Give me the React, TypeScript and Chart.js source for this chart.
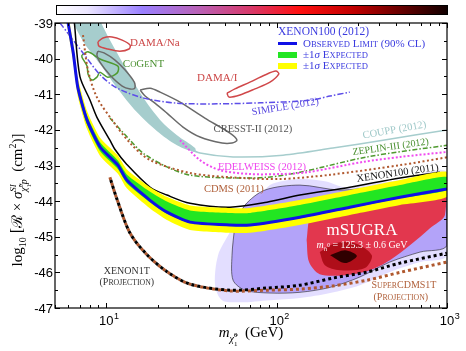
import React, { useEffect, useRef } from "react";
import { Chart, registerables } from "chart.js";
Chart.register(...registerables);

const SERIF = '"Liberation Serif", "DejaVu Serif", serif';
const SANS = '"Liberation Sans", Arial, sans-serif';

// ---- axes ----
const massMin = 5;
const massMax = 1000;
const sigmaMin = -47;
const sigmaMax = -39;
const yTickValues = [-39, -40, -41, -42, -43, -44, -45, -46, -47];
const yTickLabels = ["-39", "-40", "-41", "-42", "-43", "-44", "-45", "-46", "-47"];
const xTickValues = [10, 100, 1000];
const xTickExponents = ["1", "2", "3"];
const xMinorTicks = [5, 6, 7, 8, 9, 20, 30, 40, 50, 60, 70, 80, 90, 200, 300, 400, 500, 600, 700, 800, 900];

// ---- XENON100 (2012) observed limit and expected bands ----
const limitMass = [5.8, 6.0, 6.4, 6.8, 7.7, 9.2, 11.7, 13.2, 18, 22.7, 31, 53, 70, 137, 269, 530, 1000];
const observedLimit = [-38.6, -39.06, -39.84, -40.8, -41.72, -42.48, -42.99, -43.41, -43.97, -44.31, -44.59, -44.67, -44.67, -44.45, -44.17, -43.89, -43.66];
const expected2SigmaUpper = [-38.35, -38.8, -39.58, -40.54, -41.46, -42.22, -42.72, -43.11, -43.6, -43.88, -44.12, -44.19, -44.19, -43.97, -43.69, -43.41, -43.18];
const expected1SigmaUpper = [-38.47, -38.93, -39.71, -40.67, -41.59, -42.35, -42.86, -43.25, -43.73, -44.01, -44.26, -44.33, -44.33, -44.11, -43.83, -43.55, -43.32];
const expected1SigmaLower = [-38.72, -39.18, -39.96, -40.92, -41.84, -42.6, -43.1, -43.5, -44.03, -44.35, -44.62, -44.7, -44.7, -44.48, -44.2, -43.92, -43.69];
const expected2SigmaLower = [-38.85, -39.3, -40.09, -41.05, -41.97, -42.73, -43.23, -43.64, -44.2, -44.53, -44.81, -44.89, -44.89, -44.67, -44.39, -44.11, -43.88];

// ---- XENON100 (2011) ----
const xenon2011Mass = [6.5, 7.0, 8.02, 8.8, 10.5, 11.25, 13.2, 18.1, 22.7, 31, 53.2, 87.7, 137, 269, 530, 908];
const xenon2011Value = [-39.0, -40.5, -41.16, -41.64, -42.29, -42.55, -42.97, -43.61, -43.83, -44.06, -44.17, -44.03, -43.83, -43.61, -43.35, -43.19];

// ---- projections ----
const xenon1tMass = [10.5, 11.6, 13.8, 17.3, 22.7, 31, 53.2, 87.7, 137, 214, 339, 530, 1000];
const xenon1tValue = [-43.33, -43.97, -44.9, -45.5, -45.98, -46.33, -46.5, -46.44, -46.36, -46.16, -45.99, -45.74, -45.46];
const superCdmsMass = [10.5, 11.6, 13.8, 17.3, 22.7, 31, 53.2, 87.7, 137, 214, 339, 530, 1000];
const superCdmsValue = [-43.33, -43.97, -44.9, -45.5, -45.98, -46.33, -46.52, -46.5, -46.47, -46.38, -46.22, -46.0, -45.71];

// ---- other experiments ----
const cdmsMass = [7.3, 7.8, 8.8, 10.8, 13.8, 18.1, 31, 53.2, 104, 206, 530, 1000];
const cdmsValue = [-39.34, -40.32, -41.08, -41.72, -42.37, -42.85, -43.21, -43.33, -43.38, -43.26, -42.99, -42.77];
const edelweissMass = [27.1, 35.5, 46.5, 69.7, 104, 151, 321, 530, 1000];
const edelweissValue = [-42.29, -42.85, -43.13, -43.24, -43.24, -43.19, -42.9, -42.76, -42.62];
const zeplinMass = [10.5, 13.8, 16.4, 22.7, 31, 53.2, 87.7, 137, 339, 1000];
const zeplinValue = [-41.67, -42.29, -42.65, -43.04, -43.27, -43.35, -43.33, -43.19, -42.76, -42.43];
const simpleMass = [5.35, 7.3, 9.18, 11.5, 16.4, 26, 44.7, 79.8, 157, 206, 269];
const simpleValue = [-39.0, -39.84, -40.45, -40.82, -41.1, -41.25, -41.27, -41.24, -41.17, -41.05, -40.94];
const couppMass = [29, 35.5, 55.5, 109, 214, 421, 1000];
const couppValue = [-42.48, -42.65, -42.76, -42.71, -42.51, -42.29, -42.0];
const tealUpperMass = [8.9, 10.5, 13.2, 16.4, 20.7, 26.0, 33.2];
const tealUpperValue = [-38.8, -39.48, -40.32, -41.08, -41.72, -42.15, -42.51];
const tealLowerMass = [6.1, 7.3, 9.18, 11.6, 15.1, 19.8, 26.0, 33.2];
const tealLowerValue = [-38.8, -39.51, -40.15, -40.83, -41.5, -42.03, -42.43, -42.62];

// ---- closed regions ----
const damaNaMass = [8.93, 9.57, 10.8, 12.4, 13.8, 13.6, 12.0, 10.2, 9.06];
const damaNaValue = [-39.53, -39.42, -39.39, -39.48, -39.62, -39.73, -39.79, -39.73, -39.65];
const damaIMass = [51.1, 56.9, 69.7, 85.3, 99, 103, 91.4, 74.6, 60.9, 52.5];
const damaIValue = [-40.97, -40.85, -40.66, -40.46, -40.35, -40.43, -40.66, -40.85, -41.02, -41.08];
const cogentMass = [7.2, 7.81, 9.18, 11.7, 11.6, 10.2, 9.18, 8.81, 8.24, 7.81, 7.71, 7.2];
const cogentValue = [-39.9, -39.81, -40.01, -40.21, -40.4, -40.52, -40.38, -40.52, -40.6, -40.43, -40.21, -39.96];
const cresstAMass = [8.93, 9.7, 11.25, 12.9, 14.6, 14.7, 13.8, 12.4, 10.5, 9.18, 8.81];
const cresstAValue = [-39.79, -39.84, -40.04, -40.32, -40.66, -40.83, -40.85, -40.77, -40.46, -40.1, -39.9];
const cresstBMass = [15.8, 18.1, 20.7, 27.1, 37.9, 53.2, 58.5, 54.7, 47.8, 35.5, 28.2, 22.7, 19.3, 16.9];
const cresstBValue = [-40.88, -40.83, -40.94, -41.22, -41.67, -42.09, -42.29, -42.37, -42.37, -42.2, -41.92, -41.53, -41.25, -41.05];

// ---- mSUGRA posterior (density levels) ----
const msugraOuterMass = [53.2, 74.6, 91.4, 137, 192, 252, 353, 530, 1000, 1000, 694, 462, 308, 206, 137, 91.4, 60.9, 47.8, 43.5, 45.3];
const msugraOuterValue = [-44.87, -44.11, -43.55, -43.38, -43.44, -43.61, -43.52, -43.41, -43.19, -45.52, -45.71, -45.99, -46.36, -46.58, -46.72, -46.78, -46.84, -46.78, -46.36, -45.52];
const msugraMidMass = [56.9, 65.2, 85.3, 137, 235, 404, 694, 1000, 1000, 694, 462, 308, 206, 137, 91.4, 65.2, 55.5, 54.7];
const msugraMidValue = [-44.67, -44.11, -43.69, -43.55, -43.69, -43.58, -43.41, -43.3, -45.24, -45.43, -45.71, -46.13, -46.42, -46.56, -46.58, -46.5, -46.22, -45.52];
const msugraHighMass = [150, 157, 179, 252, 404, 694, 973, 973, 794, 606, 462, 353, 252, 179, 155];
const msugraHighValue = [-45.1, -44.39, -43.92, -43.75, -43.63, -43.47, -43.35, -44.39, -44.76, -45.24, -45.66, -45.94, -46.08, -46.05, -45.71];
const msugraPeakMass = [179, 220, 288, 362, 330, 235, 192];
const msugraPeakValue = [-45.43, -45.18, -45.18, -45.52, -45.88, -45.94, -45.8];
const msugraCoreMass = [206, 252, 296, 252];
const msugraCoreValue = [-45.52, -45.38, -45.54, -45.74];

// ---- text annotations (data coordinates) ----
const LABELS = [
  { text: "DAMA/Na", m: 13.8, v: -39.53, color: "#cc4646", size: 11, align: "left" },
  { text: "CoGeNT", m: 12.5, v: -40.12, color: "#4a9030", size: 11, align: "left", caps: true },
  { text: "DAMA/I", m: 34.1, v: -40.52, color: "#cc4646", size: 11, align: "left" },
  { text: "SIMPLE (2012)", m: 113, v: -41.33, color: "#5a4ae0", size: 10.5, rot: -9.5 },
  { text: "CRESST-II (2012)", m: 72.6, v: -41.95, color: "#555555", size: 10.5 },
  { text: "COUPP (2012)", m: 495, v: -41.98, color: "#9ec8c8", size: 10.5, rot: -10 },
  { text: "ZEPLIN-III (2012)", m: 469, v: -42.46, color: "#4a9030", size: 10, rot: -8 },
  { text: "EDELWEISS (2012)", m: 82, v: -43.02, color: "#ee44ee", size: 10.5 },
  { text: "CDMS (2011)", m: 56.1, v: -43.63, color: "#b0603a", size: 10.5 },
  { text: "XENON100 (2011)", m: 515, v: -43.19, color: "#111111", size: 10.5, rot: -8 },
  { text: "mSUGRA", m: 317, v: -44.79, color: "#ffffff", size: 17 },
  { text: "XENON1T", m: 13.2, v: -45.94, color: "#333333", size: 10 },
  { text: "(Projection)", m: 13.2, v: -46.25, color: "#333333", size: 10, caps: true },
  { text: "SuperCDMS1T", m: 559, v: -46.33, color: "#b0603a", size: 10, caps: true },
  { text: "(Projection)", m: 536, v: -46.67, color: "#b0603a", size: 10, caps: true },
];
const higgsLabelMass = 317;
const higgsLabelValue = -45.21;

// ---- helpers ----
type Run = { t?: string; s?: number; dy?: number; it?: boolean; g?: Run[]; st?: Run[] };

function pts(ms: number[], vs: number[]) {
  return ms.map((m, i) => ({ x: m, y: vs[i] }));
}
function closed(ms: number[], vs: number[]) {
  const p = pts(ms, vs);
  return [...p, p[0]];
}
function band(ms: number[], up: number[], lo: number[]) {
  return [...pts(ms, up), ...pts(ms, lo).reverse()];
}
function region(um: number[], uv: number[], lm: number[], lv: number[]) {
  return [...pts(um, uv), ...pts(lm, lv).reverse()];
}

function fontOf(r: Run) {
  return `${r.it ? "italic " : ""}${r.s || 12}px ${SERIF}`;
}
function measure(ctx: CanvasRenderingContext2D, r: Run): number {
  if (r.g) return r.g.reduce((a, x) => a + measure(ctx, x), 0);
  if (r.st) return Math.max(...r.st.map((x) => measure(ctx, x)));
  ctx.font = fontOf(r);
  return ctx.measureText(r.t || "").width;
}
function drawRun(ctx: CanvasRenderingContext2D, r: Run, x: number, y: number, dy0 = 0): number {
  const dy = dy0 + (r.dy || 0);
  if (r.g) {
    let cx = x;
    for (const c of r.g) cx += drawRun(ctx, c, cx, y, dy);
    return cx - x;
  }
  if (r.st) {
    let w = 0;
    for (const c of r.st) w = Math.max(w, drawRun(ctx, c, x, y, dy));
    return w;
  }
  ctx.font = fontOf(r);
  ctx.fillText(r.t || "", x, y + dy);
  return ctx.measureText(r.t || "").width;
}
function drawRuns(ctx: CanvasRenderingContext2D, runs: Run[], x: number, y: number, align: string, color: string, rot = 0) {
  const g = { g: runs };
  const w = measure(ctx, g);
  ctx.save();
  ctx.translate(x, y);
  ctx.rotate(rot);
  ctx.fillStyle = color;
  ctx.textBaseline = "alphabetic";
  ctx.textAlign = "left";
  const sx = align === "left" ? 0 : align === "right" ? -w : -w / 2;
  drawRun(ctx, g, sx, 0);
  ctx.restore();
}
function smallCaps(text: string, size: number): Run[] {
  const out: Run[] = [];
  for (const ch of text) {
    const lower = ch !== ch.toUpperCase();
    out.push({ t: lower ? ch.toUpperCase() : ch, s: lower ? size * 0.78 : size });
  }
  return out;
}

const decorPlugin = {
  id: "decor",
  afterDatasetsDraw(chart: any) {
    const ctx: CanvasRenderingContext2D = chart.ctx;
    const xs = chart.scales.x;
    const ys = chart.scales.y;
    const ca = chart.chartArea;

    ctx.save();
    ctx.beginPath();
    ctx.rect(ca.left, ca.top, ca.right - ca.left, ca.bottom - ca.top);
    ctx.clip();
    for (const l of LABELS as any[]) {
      const px = xs.getPixelForValue(l.m);
      const py = ys.getPixelForValue(l.v) + 0.35 * l.size;
      const runs: Run[] = l.caps ? smallCaps(l.text, l.size) : [{ t: l.text, s: l.size }];
      drawRuns(ctx, runs, px, py, l.align || "center", l.color, ((l.rot || 0) * Math.PI) / 180);
    }
    {
      const px = xs.getPixelForValue(higgsLabelMass);
      const py = ys.getPixelForValue(higgsLabelValue) + 3.5;
      drawRuns(
        ctx,
        [
          { t: "m", s: 10, it: true },
          { t: "h", s: 7, dy: 3, it: true },
          { t: "0", s: 5.5, dy: -1 },
          { t: " = 125.3 \u00b1 0.6 GeV", s: 10 },
        ],
        px,
        py,
        "center",
        "#ffffff"
      );
    }
    ctx.restore();

    ctx.save();
    ctx.strokeStyle = "#000";
    ctx.lineWidth = 1.2;
    ctx.strokeRect(ca.left, ca.top, ca.right - ca.left, ca.bottom - ca.top);
    ctx.lineWidth = 1;
    ctx.beginPath();
    for (let v = sigmaMax; v >= sigmaMin; v -= 0.5) {
      const py = Math.round(ys.getPixelForValue(v)) + 0.5;
      const len = Number.isInteger(v) ? 5 : 3;
      ctx.moveTo(ca.left, py);
      ctx.lineTo(ca.left + len, py);
      ctx.moveTo(ca.right, py);
      ctx.lineTo(ca.right - len, py);
    }
    const xt = [...xTickValues.map((v) => [v, 5]), ...xMinorTicks.map((v) => [v, 3])];
    for (const [v, len] of xt) {
      const px = Math.round(xs.getPixelForValue(v)) + 0.5;
      ctx.moveTo(px, ca.bottom);
      ctx.lineTo(px, ca.bottom - len);
      ctx.moveTo(px, ca.top);
      ctx.lineTo(px, ca.top + len);
    }
    ctx.stroke();

    ctx.fillStyle = "#000";
    ctx.font = `13px ${SANS}`;
    ctx.textAlign = "right";
    ctx.textBaseline = "middle";
    yTickValues.forEach((v, i) => {
      ctx.fillText(yTickLabels[i], ca.left - 2, ys.getPixelForValue(v) + 1);
    });
    ctx.textBaseline = "alphabetic";
    xTickValues.forEach((v, i) => {
      const px = xs.getPixelForValue(v);
      ctx.font = `13px ${SANS}`;
      ctx.textAlign = "center";
      ctx.fillText("10", px, ca.bottom + 17);
      const w = ctx.measureText("10").width;
      ctx.font = `9px ${SANS}`;
      ctx.textAlign = "left";
      ctx.fillText(xTickExponents[i], px + w / 2 + 0.5, ca.bottom + 11);
    });

    const xTitle: Run[] = [
      { t: "m", s: 15, it: true },
      {
        g: [
          { t: "\u03c7\u0303", s: 10, dy: 5, it: true },
          { st: [{ t: "0", s: 7, dy: 0 }, { t: "1", s: 7, dy: 9 }] },
        ],
      },
      { t: "  (GeV)", s: 15 },
    ];
    drawRuns(ctx, xTitle, (ca.left + ca.right) / 2, ca.bottom + 29, "center", "#000");

    const yTitle: Run[] = [
      { t: "log", s: 15 },
      { t: "10", s: 10, dy: 4 },
      { t: " [", s: 16 },
      { t: "\u211b", s: 15 },
      { t: " \u00d7 ", s: 15 },
      { t: "\u03c3", s: 15, it: true },
      {
        st: [
          { t: "SI", s: 9, dy: -6, it: true },
          {
            g: [
              { t: "\u03c7\u0303", s: 10, dy: 5, it: true },
              { st: [{ t: "0", s: 6, dy: 1 }, { t: "1", s: 6, dy: 9 }] },
              { t: "p", s: 10, dy: 5, it: true },
            ],
          },
        ],
      },
      { t: "  (cm", s: 15 },
      { t: "2", s: 10, dy: -6 },
      { t: ")]", s: 15 },
    ];
    drawRuns(ctx, yTitle, 22, 200, "center", "#000", -Math.PI / 2);

    const cbL = ca.left + 1;
    const cbR = ca.right + 1;
    const grad = ctx.createLinearGradient(cbL, 0, cbR, 0);
    grad.addColorStop(0, "#ffffff");
    grad.addColorStop(0.08, "#ece6ff");
    grad.addColorStop(0.22, "#9a80ff");
    grad.addColorStop(0.36, "#b862b8");
    grad.addColorStop(0.5, "#d83868");
    grad.addColorStop(0.62, "#ff1010");
    grad.addColorStop(0.76, "#c00000");
    grad.addColorStop(0.9, "#580000");
    grad.addColorStop(1, "#100000");
    ctx.fillStyle = grad;
    ctx.fillRect(cbL, 5, cbR - cbL, 9);
    ctx.strokeStyle = "#000";
    ctx.lineWidth = 1;
    ctx.strokeRect(cbL + 0.5, 5.5, cbR - cbL - 1, 9);

    const lx = ca.left + 223;
    const lc = "#3a3adf";
    drawRuns(ctx, [{ t: "XENON100 (2012)", s: 11.5 }], lx, 35, "left", lc);
    ctx.strokeStyle = "#1010e6";
    ctx.lineWidth = 3;
    ctx.beginPath();
    ctx.moveTo(lx, 43.5);
    ctx.lineTo(lx + 19, 43.5);
    ctx.stroke();
    drawRuns(ctx, smallCaps("Observed Limit (90% CL)", 11), lx + 25, 47, "left", lc);
    ctx.fillStyle = "#22e622";
    ctx.fillRect(lx, 52, 19, 6);
    drawRuns(ctx, [{ t: "\u00b11", s: 11 }, { t: "\u03c3", s: 11, it: true }, { t: " ", s: 11 }, ...smallCaps("Expected", 11)], lx + 25, 58, "left", lc);
    ctx.fillStyle = "#ffff00";
    ctx.fillRect(lx, 63, 19, 6);
    drawRuns(ctx, [{ t: "\u00b11", s: 11 }, { t: "\u03c3", s: 11, it: true }, { t: " ", s: 11 }, ...smallCaps("Expected", 11)], lx + 25, 69, "left", lc);
    ctx.restore();
  },
};

function line(data: any[], color: string, width: number, extra: any = {}) {
  return {
    data,
    borderColor: color,
    borderWidth: width,
    pointRadius: 0,
    fill: false,
    tension: 0.3,
    ...extra,
  };
}
function area(data: any[], color: string, extra: any = {}) {
  return {
    data,
    borderColor: color,
    backgroundColor: color,
    borderWidth: 0,
    pointRadius: 0,
    fill: "shape",
    tension: 0.3,
    ...extra,
  };
}

export default function App() {
  const ref = useRef<HTMLCanvasElement>(null);
  useEffect(() => {
    if (!ref.current) return;
    const layers = [
      area(closed(msugraOuterMass, msugraOuterValue), "rgba(208,200,255,0.6)"),
      area(closed(msugraMidMass, msugraMidValue), "rgba(170,150,248,0.82)", { borderWidth: 0.6, borderColor: "#222" }),
      area(closed(msugraHighMass, msugraHighValue), "rgba(232,40,55,0.88)"),
      area(closed(msugraPeakMass, msugraPeakValue), "rgba(170,10,20,0.9)"),
      area(closed(msugraCoreMass, msugraCoreValue), "#300000"),
      area(region(tealUpperMass, tealUpperValue, tealLowerMass, tealLowerValue), "#a6cdcd"),
      line(pts(couppMass, couppValue), "#a6cdcd", 1.5),
      line(closed(damaNaMass, damaNaValue), "#d0484a", 1.5),
      line(closed(damaIMass, damaIValue), "#d0484a", 1.5),
      line(closed(cogentMass, cogentValue), "#4f9a2f", 1.5),
      line(closed(cresstAMass, cresstAValue), "#6a6a6a", 1.5),
      line(closed(cresstBMass, cresstBValue), "#6a6a6a", 1.5),
      line(pts(simpleMass, simpleValue), "#5d4ee8", 1.5, { borderDash: [6, 2, 1.5, 2] }),
      line(pts(zeplinMass, zeplinValue), "#4f9a2f", 1.5, { borderDash: [5, 2, 1.5, 2] }),
      line(pts(cdmsMass, cdmsValue), "#b0582e", 2, { borderDash: [2, 2.5] }),
      line(pts(edelweissMass, edelweissValue), "#f04cf0", 2, { borderDash: [2, 2] }),
      line(pts(xenon2011Mass, xenon2011Value), "#000000", 1.5),
      area(band(limitMass, expected2SigmaUpper, expected2SigmaLower), "#ffff00", { tension: 0.2 }),
      area(band(limitMass, expected1SigmaUpper, expected1SigmaLower), "#22e622", { tension: 0.2 }),
      line(pts(limitMass, observedLimit), "#1010e6", 3, { tension: 0.2 }),
      line(pts(superCdmsMass, superCdmsValue), "#b0582e", 3, { borderDash: [3, 3], borderCapStyle: "butt" }),
      line(pts(xenon1tMass, xenon1tValue), "#000000", 3, { borderDash: [3, 3], borderDashOffset: 3, borderCapStyle: "butt" }),
    ];
    const n = layers.length;
    const datasets = layers.map((d, i) => ({ ...d, order: n - i }));
    const chart = new Chart(ref.current, {
      type: "line",
      data: { datasets },
      options: {
        animation: false,
        responsive: true,
        maintainAspectRatio: false,
        layout: { padding: { left: 55, right: 19, top: 23, bottom: 43 } },
        scales: {
          x: { type: "logarithmic", min: massMin, max: massMax, display: false },
          y: { type: "linear", min: sigmaMin, max: sigmaMax, display: false },
        },
        plugins: { legend: { display: false }, tooltip: { enabled: false } },
      },
      plugins: [decorPlugin],
    } as any);
    return () => chart.destroy();
  }, []);
  return (
    <div style={{ position: "fixed", left: 0, top: 0, width: 466, height: 351, background: "#fff" }}>
      <canvas ref={ref} />
    </div>
  );
}
